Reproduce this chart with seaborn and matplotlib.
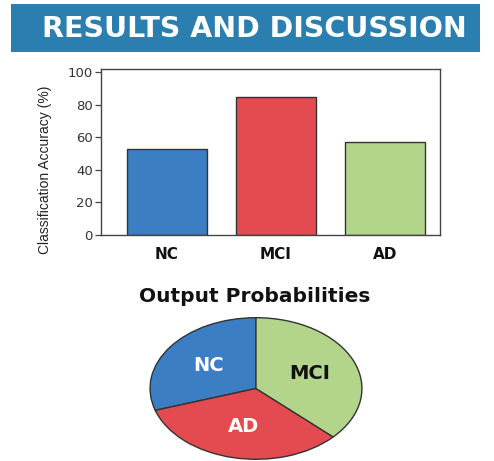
import matplotlib
matplotlib.use("Agg")
import matplotlib.pyplot as plt
import seaborn as sns
import pandas as pd
from matplotlib.patches import Rectangle

# data
groups = ["NC", "MCI", "AD"]
accuracy = [53, 85, 57]
pie_labels = ["NC", "AD", "MCI"]
pie_values = [30, 33, 37]
yticks = [0, 20, 40, 60, 80, 100]

bar_colors = {"NC": "#3b7ec4", "MCI": "#e34b50", "AD": "#b3d48b"}
pie_colors = {"NC": "#3b7ec4", "AD": "#e34b50", "MCI": "#b3d48b"}
label_colors = {"NC": "white", "AD": "white", "MCI": "#111111"}

sns.set_style("white")
plt.rcParams["font.family"] = ["DejaVu Sans"]

fig = plt.figure(figsize=(4.94, 4.61), dpi=100)

# header banner
fig.patches.append(Rectangle((0.022, 0.887), 0.950, 0.104, transform=fig.transFigure,
                             facecolor="#2a7fb0", edgecolor="none", zorder=0))
fig.text(0.514, 0.937, "RESULTS AND DISCUSSION", color="white", fontsize=20.5,
         fontweight="bold", ha="center", va="center")

# bar chart
ax = fig.add_axes([0.2045, 0.4902, 0.6862, 0.3601])
df = pd.DataFrame({"group": groups, "accuracy": accuracy})
sns.barplot(data=df, x="group", y="accuracy", hue="group", palette=bar_colors,
            legend=False, width=0.73, saturation=1, edgecolor="#333333",
            linewidth=1.0, ax=ax)
ax.set_xlim(-0.6, 2.5)
ax.set_ylim(0, 102)
ax.set_yticks(yticks)
ax.set_xlabel("")
ax.set_ylabel("Classification Accuracy (%)", fontsize=10, color="#222222",
              family=["Liberation Sans", "DejaVu Sans"])
ax.yaxis.set_label_coords(-0.145, 0.39)
for s in ax.spines.values():
    s.set_color("#444444")
    s.set_linewidth(1.0)
ax.tick_params(axis="y", left=True, length=4, width=0.9, color="#444444",
               labelsize=9.5, labelcolor="#333333", pad=2)
ax.tick_params(axis="x", bottom=False, labelsize=11, pad=5)
for t in ax.get_xticklabels():
    t.set_fontweight("bold")
    t.set_color("#111111")

# pie chart
fig.text(0.516, 0.356, "Output Probabilities", fontsize=14.5, fontweight="bold",
         ha="center", va="center", color="#111111")
pax = fig.add_axes([0.3016, 0.0022, 0.4332, 0.3102])
wedges, texts = pax.pie(pie_values, labels=pie_labels, startangle=90, counterclock=True,
                        colors=[pie_colors[k] for k in pie_labels], labeldistance=0.55,
                        wedgeprops=dict(edgecolor="#333333", linewidth=1.0))
for t, lab in zip(texts, pie_labels):
    t.set_ha("center")
    t.set_va("center")
    t.set_fontsize(14)
    t.set_fontweight("bold")
    t.set_color(label_colors[lab])
pax.set_aspect("auto")
pax.set_xlim(-1.01, 1.01)
pax.set_ylim(-1.01, 1.01)
pax.axis("off")

fig.savefig("out.png", dpi=100)
